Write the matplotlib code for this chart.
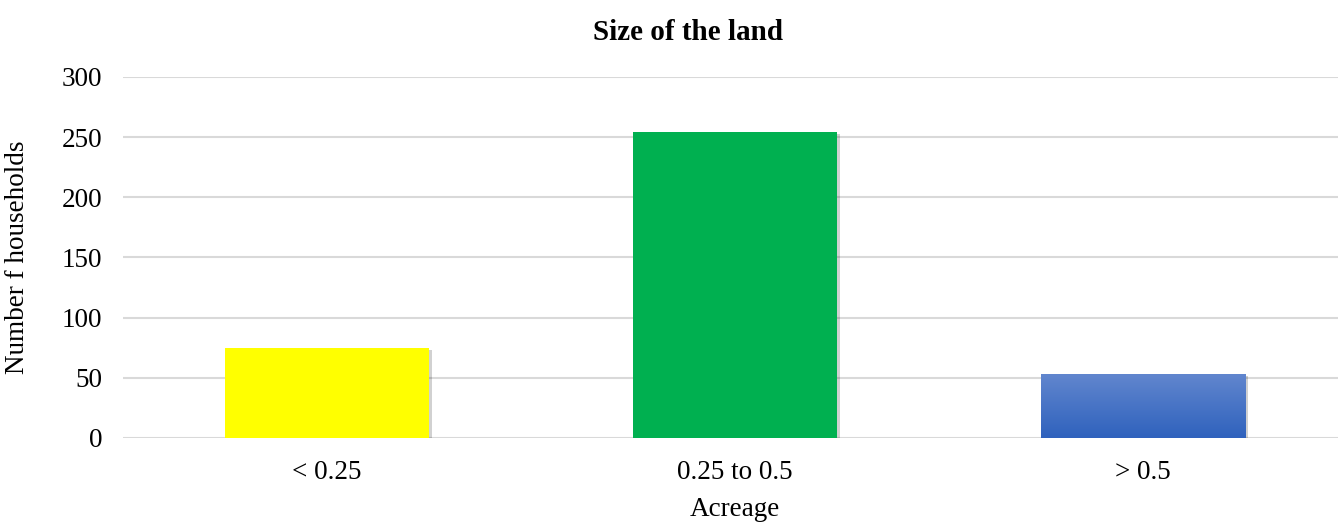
import numpy as np
import matplotlib
matplotlib.use("Agg")
from matplotlib import pyplot as plt
from matplotlib import patheffects as pe
from matplotlib.colors import LinearSegmentedColormap

categories = ["< 0.25", "0.25 to 0.5", "> 0.5"]
households = [75, 254, 53]
colors = ["#FFFF00", "#00B050", "#4472C4"]

plt.rcParams["font.family"] = ["Liberation Serif", "DejaVu Serif"]

fig = plt.figure(figsize=(13.38, 5.22), dpi=100)
ax = fig.add_axes([0.0919, 0.161, 0.9078, 0.6915])

x = np.arange(len(categories))
bars = ax.bar(x, households, width=0.5, color=colors, zorder=3)

shadow = [pe.SimplePatchShadow(offset=(2, -1.5), shadow_rgbFace="#000000", alpha=0.18), pe.Normal()]
for b in bars:
    b.set_path_effects(shadow)

# gradient fill on the last bar
b = bars[2]
cmap = LinearSegmentedColormap.from_list("blue_grad", ["#2F62BD", "#6186CE"])
grad = np.linspace(0, 1, 256).reshape(-1, 1)
im = ax.imshow(grad, cmap=cmap, origin="lower", aspect="auto", zorder=4,
               extent=[b.get_x(), b.get_x() + b.get_width(), 0, b.get_height()])
im.set_clip_path(b)

ax.set_xlim(-0.5, 2.477)
ax.set_ylim(0, 300)
ax.set_yticks(range(0, 301, 50))
ax.set_xticks(x)
ax.set_xticklabels(categories)
ax.yaxis.grid(True, color="#D9D9D9", linewidth=1.5, zorder=0)
ax.set_axisbelow(True)
for s in ax.spines.values():
    s.set_visible(False)
ax.tick_params(axis="both", length=0, labelsize=19.5, colors="#000000")
ax.tick_params(axis="y", pad=15)
ax.tick_params(axis="x", pad=16)

fig.text(18 / 1338, 1 - 257 / 522, "Number f households", rotation=90,
         ha="center", va="center", fontsize=19.5)
fig.text(735 / 1338, 1 - 509 / 522, "Acreage", ha="center", va="center", fontsize=19.5)
fig.text(688 / 1338, 1 - 32 / 522, "Size of the land", ha="center", va="center",
         fontsize=21, fontweight="bold")

fig.savefig("out.png", dpi=100)
